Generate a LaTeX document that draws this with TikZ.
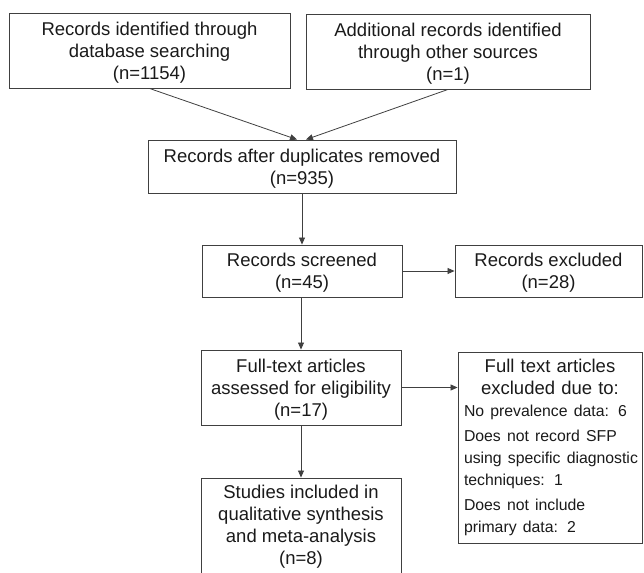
\documentclass[tikz,border=0pt]{standalone}
\usepackage{fontspec}
\setmainfont{Liberation Sans}
\usetikzlibrary{arrows.meta}
\definecolor{linec}{HTML}{404040}
\definecolor{textc}{HTML}{1A1A1A}
\newcommand{\topstrut}{\rule{0pt}{17.5pt}}
\tikzset{
  box/.style={draw=linec, line width=0.9pt, rectangle, inner sep=0pt, align=center,
    text=textc, font=\fontsize{18.5}{22}\selectfont},
  conn/.style={draw=linec, line width=0.8pt, -{Triangle[length=7pt,width=6pt]}}
}
\begin{document}
\begin{tikzpicture}[x=1pt,y=-1pt]
\useasboundingbox (0,0) rectangle (644,572);
\node[box, minimum width=281, minimum height=75] (b1) at (149.5,50.5)
  {\topstrut Records identified through\\database searching\\(n=1154)};
\node[box, minimum width=284, minimum height=75] (b2) at (448,51.5)
  {\topstrut Additional records identified\\through other sources\\(n=1)};
\node[box, minimum width=308, minimum height=53] (b3) at (302,166.5)
  {\topstrut Records after duplicates removed\\(n=935)};
\node[box, minimum width=200, minimum height=52] (b4) at (302,271)
  {\topstrut Records screened\\(n=45)};
\node[box, minimum width=187, minimum height=52] (b5) at (548.5,271)
  {\topstrut Records excluded\\(n=28)};
\node[box, minimum width=200, minimum height=75] (b6) at (301,387.5)
  {\topstrut Full-text articles\\assessed for eligibility\\(n=17)};
\node[box, minimum width=184, minimum height=191, text width=172pt, align=left] (b7) at (550,447.5)
  {{\centering\fontsize{18.5}{22}\selectfont Full text articles\\excluded due to:\par}
   \raggedright\fontsize{15.8}{22}\selectfont
   \mbox{No prevalence data: 6}\par\vspace{3pt}
   \mbox{Does not record SFP}\par
   \mbox{using specific diagnostic}\par
   \mbox{techniques: 1}\par\vspace{3pt}
   \mbox{Does not include}\par
   \mbox{primary data: 2}\par};
\node[box, minimum width=200, minimum height=98] (b8) at (301,527)
  {Studies included in\\qualitative synthesis\\and meta-analysis\\(n=8)};
\draw[conn] (b1.south) -- ([xshift=-5pt]b3.north);
\draw[conn] (b2.south) -- ([xshift=4pt]b3.north);
\draw[conn] (b3.south) -- (b4.north);
\draw[conn] (b4.east) -- (b5.west);
\draw[conn] (b6.north |- b4.south) -- (b6.north);
\draw[conn] (b6.east) -- (b6.east -| b7.west);
\draw[conn] (b6.south) -- (b8.north);
\end{tikzpicture}
\end{document}
